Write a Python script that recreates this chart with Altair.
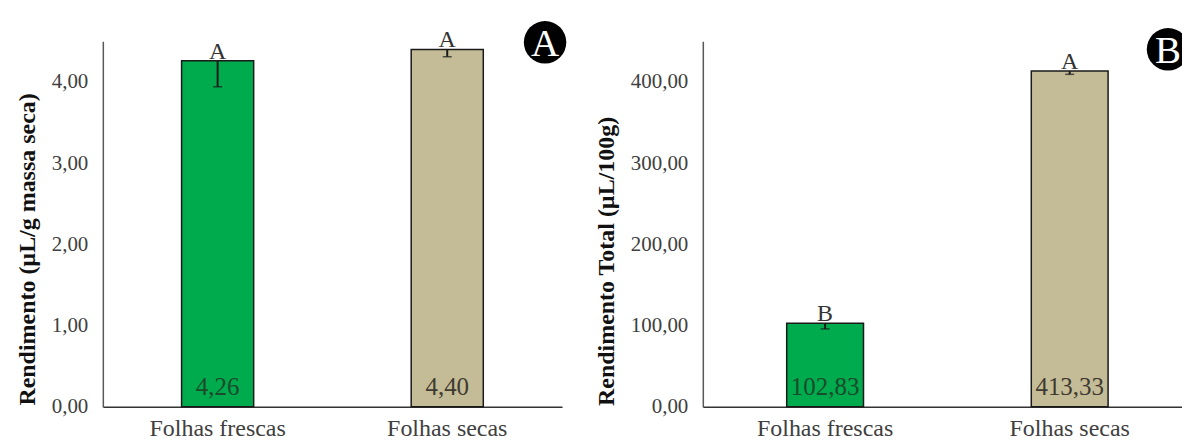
import altair as alt
import pandas as pd

# Categorias e valores das duas figuras
categorias = ["Folhas frescas", "Folhas secas"]

rendimento = [4.26, 4.40]          # µL/g massa seca
erro_rendimento = [0.32, 0.09]
letras_rendimento = ["A", "A"]

rendimento_total = [102.83, 413.33]  # µL/100g
erro_total = [7.0, 4.0]
letras_total = ["B", "A"]

cores_barras = ["#00AB4E", "#C4BC97"]
cores_rotulos = ["#1D4A2A", "#3F3A30"]

FONTE = "Liberation Serif"
ROTULO_EIXO = "replace(format(datum.value, '.2f'), '.', ',')"


def painel(valores, erros, letras, titulo, titulo_y, dominio, marcas, largura,
           selo, selo_x, selo_y):
    df = pd.DataFrame({
        "categoria": categorias,
        "valor": valores,
        "erro": erros,
        "letra": letras,
        "cor": cores_barras,
        "cor_rotulo": cores_rotulos,
    })
    df["inferior"] = df["valor"] - df["erro"]
    df["rotulo"] = [f"{v:.2f}".replace(".", ",") for v in valores]

    x = alt.X(
        "categoria:N",
        sort=categorias,
        scale=alt.Scale(paddingInner=0.686, paddingOuter=0.343),
        axis=alt.Axis(title=None, labelAngle=0, labelFontSize=24,
                      labelBaseline="alphabetic", labelPadding=29,
                      ticks=False, labelColor="#404040",
                      domainColor="#333333", domainWidth=1.5),
    )
    escala_y = alt.Scale(domain=dominio, nice=False, zero=True)
    eixo_y = alt.Axis(title=titulo, values=marcas, labelExpr=ROTULO_EIXO,
                      grid=False, ticks=False, labelFontSize=21,
                      labelPadding=15, labelColor="#404040",
                      domainColor="#595959", domainWidth=1.5,
                      titleFontSize=24, titleFontWeight="bold",
                      titleColor="#111111", titlePadding=12, titleY=titulo_y)

    def eixo(campo):
        return alt.Y(campo, scale=escala_y, axis=eixo_y, title=titulo)

    base = alt.Chart(df).encode(x=x)

    barras = base.mark_bar(stroke="#1a1a1a", strokeWidth=1.5).encode(
        y=eixo("valor:Q"),
        color=alt.Color("cor:N", scale=None),
    )

    barra_erro = base.mark_rule(color="#1a1a1a", strokeWidth=2).encode(
        y=eixo("inferior:Q"),
        y2="valor:Q",
    )
    capa_erro = base.mark_tick(color="#1a1a1a", thickness=1.5, size=9).encode(
        y=eixo("inferior:Q"),
    )

    letras_sig = base.mark_text(font=FONTE, fontSize=24, baseline="alphabetic",
                                dy=-2, color="#333333").encode(
        y=eixo("valor:Q"),
        text="letra:N",
    )

    rotulos = base.mark_text(font=FONTE, fontSize=25, baseline="alphabetic",
                             dy=-12).encode(
        y=alt.datum(0),
        text="rotulo:N",
        color=alt.Color("cor_rotulo:N", scale=None),
    )

    df_selo = pd.DataFrame({"selo": [selo]})
    circulo = alt.Chart(df_selo).mark_point(
        shape="circle", filled=True, size=1810, color="#000000", opacity=1
    ).encode(x=alt.value(selo_x), y=alt.value(selo_y))
    letra_selo = alt.Chart(df_selo).mark_text(
        font=FONTE, fontSize=39, color="#ffffff", baseline="alphabetic",
        align="center"
    ).encode(x=alt.value(selo_x), y=alt.value(selo_y + 14), text="selo:N")

    return alt.layer(barras, barra_erro, capa_erro, letras_sig, rotulos,
                     circulo, letra_selo).properties(width=largura, height=366)


painel_a = painel(rendimento, erro_rendimento, letras_rendimento,
                  "Rendimento (µL/g massa seca)", 208, [0, 4.5], [0, 1, 2, 3, 4],
                  460, "A", 443, 1)
painel_b = painel(rendimento_total, erro_total, letras_total,
                  "Rendimento Total (µL/100g)", 220, [0, 450],
                  [0, 100, 200, 300, 400],
                  490, "B", 466, 8)

# O painel B continua além da borda direita; a margem negativa recorta-o ali.
chart = alt.hconcat(painel_a, painel_b, spacing=27).properties(
    padding={"left": 15, "top": 20, "right": -10, "bottom": 0}
).configure(
    font=FONTE,
).configure_view(stroke=None).configure_axis(
    labelFont=FONTE, titleFont=FONTE
)

chart.save("out.html", embed_options={"renderer": "svg", "actions": False})
